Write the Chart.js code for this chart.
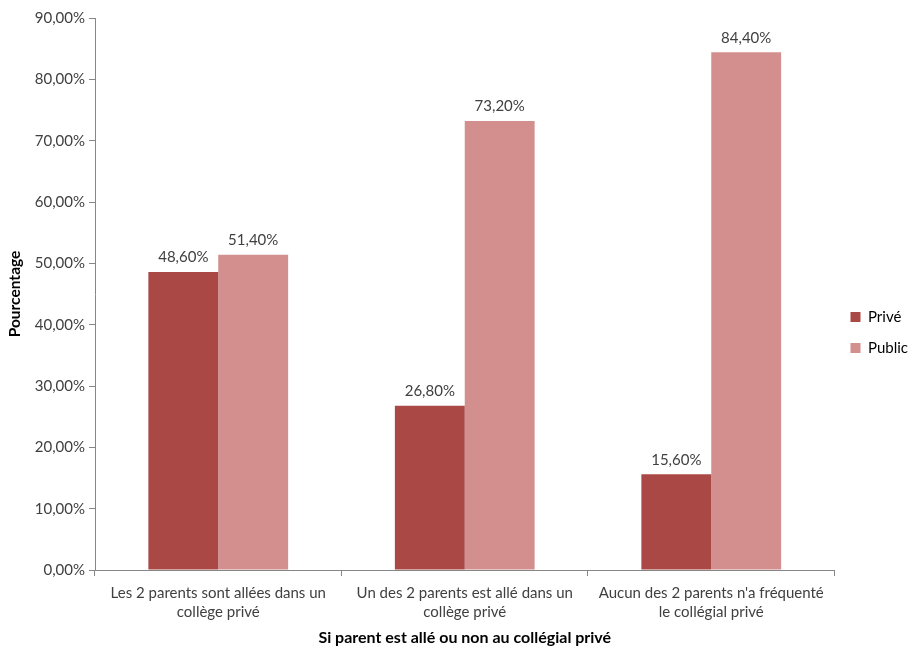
<!DOCTYPE html>
<html>
<head>
<meta charset="utf-8">
<script src="https://cdn.jsdelivr.net/npm/chart.js@4.4.0/dist/chart.umd.min.js"></script>
<style>
  body { margin: 0; background: #fff; }
  #wrap { width: 918px; height: 647px; }
</style>
</head>
<body>
<div id="wrap"><canvas id="chart"></canvas></div>
<script>
// categories and values
const categories = [
    ['Les 2 parents sont allées dans un', 'collège privé'],
    ['Un des 2 parents est allé dans un', 'collège privé'],
    ['Aucun des 2 parents n\'a fréquenté', 'le collégial privé']
];
const prive = [48.6, 26.8, 15.6];
const publicVals = [51.4, 73.2, 84.4];

const FONT = 'Lato, "Open Sans", sans-serif';
const TEXT = '#404040';
const SIZE = 15;

function pct(v) {
    return v.toFixed(2).replace('.', ',') + '%';
}

// draws the value above each bar
const barLabels = {
    id: 'barLabels',
    afterDatasetsDraw(chart) {
        const ctx = chart.ctx;
        ctx.save();
        ctx.font = SIZE + 'px ' + FONT;
        ctx.fillStyle = TEXT;
        ctx.textAlign = 'center';
        ctx.textBaseline = 'bottom';
        chart.data.datasets.forEach((ds, i) => {
            chart.getDatasetMeta(i).data.forEach((bar, j) => {
                ctx.fillText(pct(ds.data[j]), bar.x, bar.y - 7);
            });
        });
        ctx.restore();
    }
};

new Chart(document.getElementById('chart'), {
    type: 'bar',
    data: {
        labels: categories,
        datasets: [{
            label: 'Privé',
            data: prive,
            backgroundColor: '#AA4846'
        }, {
            label: 'Public',
            data: publicVals,
            backgroundColor: '#D38F8E'
        }]
    },
    options: {
        responsive: true,
        maintainAspectRatio: false,
        animation: false,
        layout: { padding: { top: 18, right: 0, left: 0, bottom: 0 } },
        datasets: {
            bar: { categoryPercentage: 0.567, barPercentage: 1 }
        },
        scales: {
            x: {
                border: { color: '#868686' },
                grid: { display: true, drawOnChartArea: false, offset: true, tickLength: 6, color: '#868686' },
                ticks: { color: TEXT, font: { family: FONT, size: SIZE, lineHeight: 1.25 }, maxRotation: 0, padding: 8 },
                title: {
                    display: true,
                    text: 'Si parent est allé ou non au collégial privé',
                    color: '#000',
                    font: { family: FONT, size: 16, weight: 'bold' },
                    padding: { top: 7, bottom: 0 }
                },
                afterFit(scale) { scale.height = 77; }
            },
            y: {
                min: 0,
                max: 90,
                border: { color: '#868686' },
                grid: { display: true, drawOnChartArea: false, tickLength: 6, color: '#868686' },
                ticks: {
                    stepSize: 10,
                    color: TEXT,
                    font: { family: FONT, size: SIZE },
                    padding: 4,
                    callback: v => pct(v)
                },
                title: {
                    display: true,
                    text: 'Pourcentage',
                    color: '#000',
                    font: { family: FONT, size: 15.5, weight: 'bold' },
                    padding: { top: 6, bottom: 0 }
                },
                afterFit(scale) { scale.width = 95; }
            }
        },
        plugins: {
            legend: {
                position: 'right',
                labels: {
                    boxWidth: 10,
                    boxHeight: 10,
                    padding: 16,
                    color: '#000',
                    font: { family: FONT, size: SIZE }
                }
            },
            tooltip: { enabled: false }
        }
    },
    plugins: [barLabels]
});
</script>
</body>
</html>
